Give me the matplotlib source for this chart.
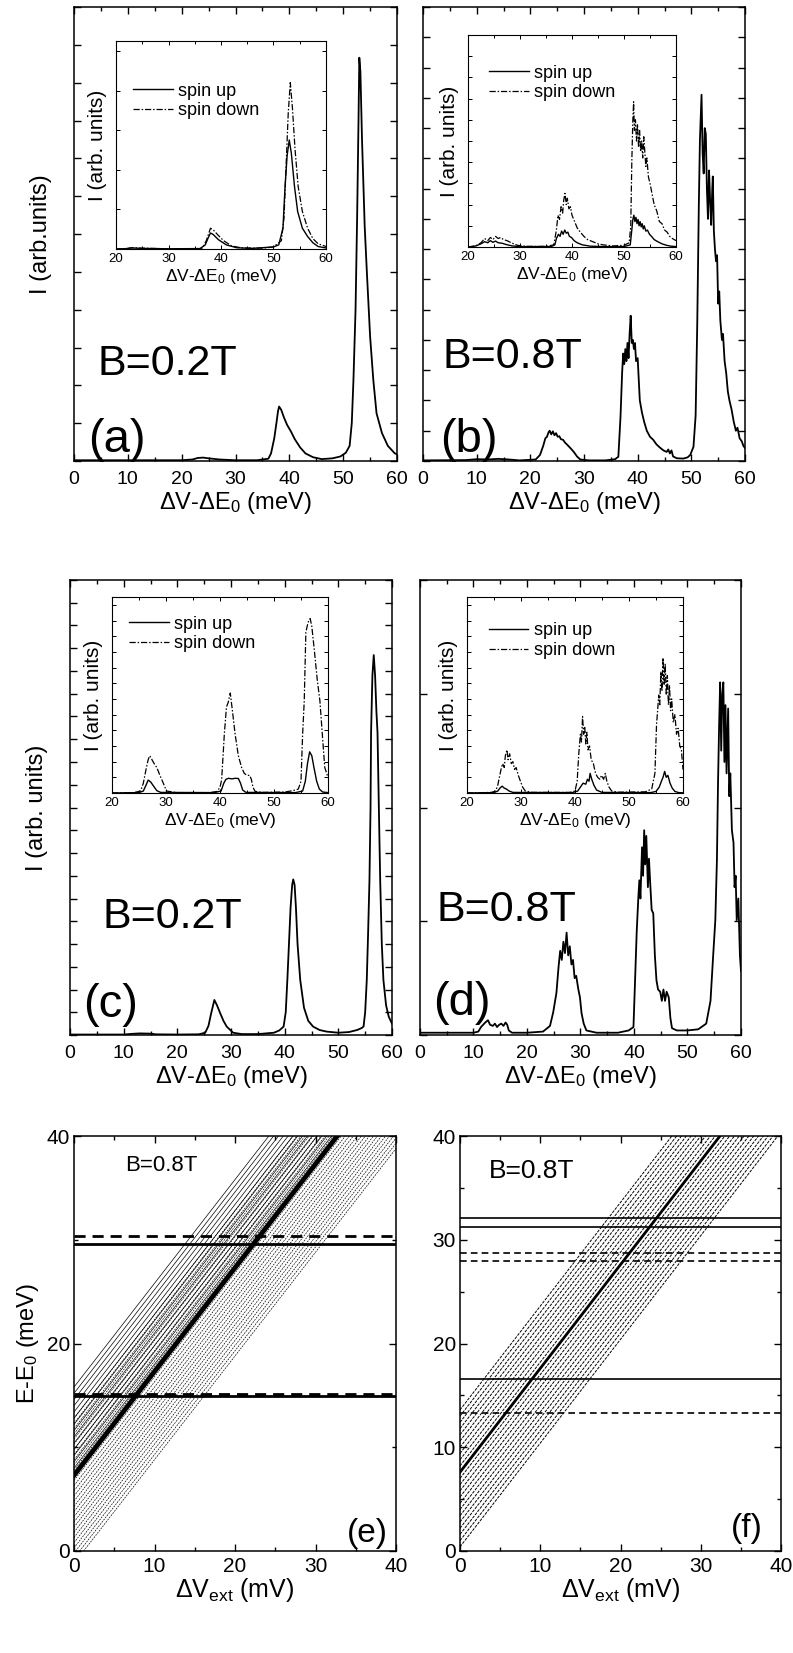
import matplotlib
matplotlib.use('Agg')
import matplotlib.pyplot as plt
from matplotlib.ticker import MultipleLocator, NullFormatter

plt.rcParams['font.family'] = ['Liberation Sans', 'DejaVu Sans']
plt.rcParams['mathtext.fontset'] = 'custom'
plt.rcParams['mathtext.rm'] = 'Liberation Sans'
plt.rcParams['mathtext.it'] = 'Liberation Sans:italic'
plt.rcParams['mathtext.bf'] = 'Liberation Sans:bold'

# ---------------- data ----------------
a_main = [(0,0.02),(10,0.02),(20,0.02),(22,0.04),(23,0.08),(24,0.09),(25,0.07),(27,0.04),(30,0.02),(34,0.02),
          (36.1,0.06),(36.6,0.2),(37.2,0.6),(37.6,1.0),(37.9,1.32),(38.1,1.44),(38.5,1.35),(39.0,1.15),(39.6,0.95),
          (40.3,0.78),(41.0,0.58),(42.0,0.36),(43.0,0.2),(44.4,0.1),(46,0.05),(48,0.07),(49.5,0.12),(50.5,0.22),
          (51.2,0.4),(51.6,1.0),(51.9,2.1),(52.3,4.0),(52.6,6.5),(52.85,9.0),(53.0,10.66),(53.2,10.3),(53.5,8.5),
          (54.0,6.2),(54.4,5.0),(55.0,3.3),(55.6,2.14),(56.2,1.26),(57.2,0.74),(58.3,0.4),(59.6,0.2),(60,0.18)]
a_up = [(20,0),(22,0.002),(23,0.005),(25,0.003),(30,0.001),(36,0.002),(37,0.02),(37.5,0.05),(38,0.077),(38.5,0.07),
        (39.5,0.045),(41,0.02),(43,0.006),(46,0.003),(50,0.01),(51,0.02),(51.8,0.1),(52.2,0.3),(52.6,0.45),
        (53.0,0.524),(53.4,0.46),(54.0,0.3),(54.6,0.18),(55.5,0.1),(56.5,0.06),(57.5,0.03),(58.5,0.012),(60,0.005)]
a_down = [(20,0),(22,0.002),(23,0.006),(25,0.004),(30,0.001),(36,0.002),(36.5,0.005),(37.2,0.04),(38,0.1),(38.6,0.09),
          (39.5,0.065),(40.5,0.04),(42,0.015),(44,0.005),(48,0.004),(50,0.01),(51.5,0.04),(52,0.15),(52.4,0.4),
          (52.8,0.65),(53.2,0.80),(53.6,0.68),(54.1,0.48),(54.7,0.3),(55.5,0.18),(56.5,0.1),(57.5,0.05),(58.5,0.025),(60,0.012)]

b_main = [(0,0.02),(8,0.03),(10,0.06),(12,0.05),(14,0.07),(16,0.05),(18,0.02),(21,0.05),(21.8,0.2),(22.4,0.5),
          (22.8,0.75),(23.1,0.8),(23.4,0.95),(23.6,1.0),(23.9,0.88),(24.2,0.98),(24.5,0.85),(24.8,0.92),(25.1,0.8),
          (25.4,0.82),(25.7,0.72),(26.1,0.7),(26.5,0.6),(26.8,0.55),(27.5,0.42),(28.1,0.3),(28.7,0.15),(29.3,0.05),
          (31,0.02),(34,0.02),(35.8,0.06),(36.4,0.14),(36.8,1.45),(37.1,2.9),(37.3,3.55),(37.5,3.2),(37.7,3.7),
          (37.9,3.3),(38.1,3.9),(38.3,3.4),(38.5,4.2),(38.7,4.8),(38.9,3.9),(39.1,4.0),(39.3,3.7),(39.5,3.9),
          (39.7,3.3),(40.0,3.4),(40.4,2.0),(40.8,1.6),(41.2,1.3),(41.7,1.0),(42.3,0.8),(42.9,0.7),(43.5,0.55),
          (44.1,0.45),(44.8,0.35),(45.4,0.3),(45.7,0.38),(46.0,0.25),(46.3,0.35),(46.6,0.15),(47.3,0.09),(48.5,0.08),
          (49.3,0.12),(49.8,0.2),(50.4,0.47),(50.8,1.5),(51.1,4.5),(51.4,8.5),(51.6,10.6),(51.9,12.1),(52.1,10.2),
          (52.3,9.5),(52.5,11.0),(52.7,10.8),(52.9,9.0),(53.1,8.0),(53.3,9.6),(53.5,8.6),(53.7,7.8),(53.9,9.0),
          (54.0,9.4),(54.2,7.6),(54.4,7.0),(54.6,6.6),(54.8,6.8),(55.0,5.2),(55.2,5.6),(55.4,4.65),(55.7,4.0),
          (55.9,4.2),(56.2,3.3),(56.5,2.9),(56.8,2.3),(57.1,2.0),(57.5,1.7),(57.9,1.3),(58.3,1.0),(58.6,1.1),
          (59.0,0.75),(59.4,0.65),(59.7,0.5),(60,0.43)]
b_up = [(20,0),(21.5,0.005),(22.5,0.015),(23.2,0.025),(23.8,0.02),(24.3,0.03),(24.8,0.022),(25.3,0.028),(25.8,0.02),
        (26.5,0.018),(27.3,0.012),(28.5,0.005),(30,0.002),(36,0.002),(36.7,0.01),(37.0,0.04),(37.4,0.06),(37.7,0.05),
        (38.0,0.075),(38.3,0.06),(38.6,0.08),(38.9,0.065),(39.2,0.07),(39.5,0.05),(39.9,0.045),(40.4,0.03),(41,0.02),
        (42,0.01),(43.5,0.004),(46,0.002),(50,0.002),(51.2,0.01),(51.5,0.08),(51.7,0.13),(51.9,0.15),(52.1,0.12),
        (52.3,0.14),(52.5,0.11),(52.7,0.13),(52.9,0.1),(53.1,0.12),(53.3,0.095),(53.5,0.11),(53.7,0.085),(53.9,0.1),
        (54.2,0.075),(54.5,0.08),(54.9,0.06),(55.3,0.05),(55.8,0.035),(56.5,0.025),(57.3,0.015),(58.2,0.008),
        (59,0.004),(60,0.002)]
b_down = [(20,0),(21.5,0.005),(22.5,0.02),(23.2,0.04),(23.8,0.03),(24.3,0.045),(24.8,0.035),(25.3,0.05),(25.8,0.04),
          (26.3,0.045),(26.8,0.035),(27.5,0.03),(28.3,0.02),(29.5,0.008),(31,0.003),(35,0.003),(36.5,0.01),(37.0,0.08),
          (37.3,0.15),(37.6,0.13),(37.9,0.19),(38.2,0.16),(38.4,0.22),(38.65,0.253),(38.9,0.2),(39.1,0.23),(39.4,0.18),
          (39.7,0.19),(40.0,0.15),(40.5,0.12),(41.0,0.09),(41.6,0.07),(42.3,0.05),(43.0,0.035),(44,0.025),(45,0.015),
          (46,0.01),(48,0.005),(50,0.008),(51.0,0.02),(51.3,0.1),(51.5,0.4),(51.7,0.6),(51.85,0.685),(52.0,0.55),
          (52.2,0.6),(52.4,0.5),(52.6,0.58),(52.8,0.47),(53.0,0.55),(53.2,0.45),(53.4,0.5),(53.6,0.42),(53.8,0.52),
          (54.0,0.45),(54.2,0.38),(54.4,0.42),(54.7,0.33),(55.0,0.3),(55.4,0.25),(55.8,0.2),(56.3,0.17),(56.8,0.12),
          (57.3,0.11),(57.8,0.08),(58.3,0.07),(58.8,0.05),(59.3,0.04),(60,0.03)]

c_main = [(0,0.02),(10,0.02),(11.5,0.05),(13,0.07),(15,0.06),(16,0.03),(20,0.02),(24,0.03),(25.2,0.1),(25.8,0.4),
          (26.3,0.95),(26.9,1.54),(27.4,1.3),(28,0.95),(28.6,0.62),(29.2,0.37),(30.4,0.1),(32,0.04),(35,0.04),
          (38,0.1),(39.0,0.2),(39.8,0.37),(40.2,1.0),(40.5,2.42),(40.8,4.0),(41.1,5.6),(41.4,6.6),(41.6,6.84),
          (41.85,6.6),(42.1,5.6),(42.4,4.0),(42.9,2.42),(43.6,1.2),(44.4,0.62),(45.3,0.37),(46.5,0.22),(47.8,0.15),
          (50,0.1),(52,0.13),(53.5,0.22),(54.3,0.3),(54.7,0.37),(55.0,1.0),(55.3,2.42),(55.55,4.5),(55.8,6.8),
          (56.0,10.0),(56.1,13.3),(56.35,15.8),(56.6,16.7),(56.85,15.8),(57.1,14.2),(57.3,13.3),(57.55,10.0),
          (57.8,6.8),(58.1,4.0),(58.4,2.42),(58.9,1.3),(59.4,0.8),(60,0.5)]
c_up = [(20,0),(25,0.002),(25.8,0.01),(26.3,0.04),(26.7,0.066),(27.2,0.055),(27.7,0.035),(28.3,0.012),(29,0.003),
        (39,0.002),(40.2,0.01),(40.7,0.05),(41.1,0.07),(41.6,0.075),(42.2,0.072),(42.8,0.075),(43.4,0.074),
        (43.8,0.05),(44.2,0.015),(44.8,0.003),(54,0.002),(55.3,0.01),(55.8,0.06),(56.2,0.15),(56.6,0.21),
        (57.0,0.19),(57.4,0.13),(57.9,0.06),(58.4,0.02),(59,0.005),(60,0.002)]
c_down = [(20,0),(24,0.002),(25.3,0.01),(25.8,0.05),(26.3,0.12),(26.7,0.17),(27.0,0.19),(27.4,0.17),(27.8,0.15),
          (28.3,0.13),(28.8,0.095),(29.5,0.05),(30.1,0.01),(32,0.002),(38,0.002),(39.5,0.008),(40.0,0.03),
          (40.3,0.066),(40.8,0.3),(41.2,0.44),(41.5,0.46),(41.9,0.51),(42.3,0.42),(42.8,0.3),(43.4,0.19),(44.0,0.13),
          (44.5,0.1),(45.0,0.09),(45.5,0.09),(45.8,0.07),(46.1,0.03),(46.5,0.008),(48,0.003),(52,0.005),(53.5,0.012),
          (54.5,0.02),(55.0,0.06),(55.3,0.3),(55.6,0.47),(55.9,0.82),(56.3,0.87),(56.7,0.89),(57.0,0.85),(57.5,0.72),
          (58.0,0.58),(58.5,0.47),(59.0,0.28),(59.4,0.13),(60,0.08)]

d_main = [(0,0.02),(10,0.02),(10.9,0.03),(11.4,0.07),(11.8,0.09),(12.2,0.11),(12.7,0.13),(13.1,0.09),(13.6,0.08),
          (14.0,0.1),(14.4,0.07),(14.8,0.09),(15.2,0.1),(15.6,0.08),(16.0,0.11),(16.3,0.09),(16.6,0.04),(17.2,0.02),
          (20,0.02),(23,0.03),(24.3,0.08),(24.9,0.2),(25.5,0.37),(25.9,0.6),(26.2,0.74),(26.5,0.66),(26.8,0.82),
          (27.1,0.72),(27.4,0.9),(27.7,0.7),(28.0,0.78),(28.3,0.62),(28.6,0.66),(28.9,0.5),(29.2,0.52),(29.6,0.4),
          (29.9,0.33),(30.2,0.19),(30.6,0.1),(31.1,0.04),(33,0.02),(37,0.02),(39,0.04),(39.9,0.07),(40.2,0.48),
          (40.5,0.9),(40.8,1.2),(41.0,1.36),(41.2,1.2),(41.5,1.65),(41.7,1.4),(41.9,1.8),(42.1,1.5),(42.3,1.75),
          (42.6,1.3),(42.8,1.55),(43.0,1.36),(43.3,1.1),(43.6,1.07),(43.9,0.7),(44.2,0.48),(44.5,0.4),(44.9,0.38),
          (45.2,0.3),(45.5,0.4),(45.8,0.3),(46.1,0.38),(46.5,0.33),(46.8,0.15),(47.1,0.06),(48,0.04),(50,0.04),
          (52,0.05),(53.5,0.1),(54.3,0.3),(54.8,0.7),(55.2,1.01),(55.5,1.54),(55.7,2.2),(55.9,2.7),(56.1,3.1),
          (56.3,2.5),(56.5,3.0),(56.7,3.1),(56.9,2.4),(57.1,2.9),(57.3,2.3),(57.6,2.87),(57.8,2.1),(58.0,2.3),
          (58.3,1.8),(58.6,1.69),(58.8,1.3),(59.0,1.4),(59.2,1.01),(59.5,1.2),(59.8,0.7),(60,0.56)]
d_up = [(20,0),(25,0.002),(25.7,0.01),(26.1,0.025),(26.5,0.035),(26.9,0.025),(27.3,0.02),(27.8,0.01),(28.5,0.003),
        (39.5,0.002),(40.5,0.01),(41.0,0.03),(41.5,0.05),(42.0,0.045),(42.3,0.07),(42.6,0.06),(42.8,0.1),(43.1,0.07),
        (43.5,0.04),(44.0,0.015),(45,0.003),(54,0.002),(55,0.008),(55.6,0.03),(56.0,0.06),(56.3,0.08),(56.6,0.11),
        (56.9,0.08),(57.2,0.09),(57.6,0.05),(58.0,0.025),(58.5,0.008),(59.2,0.002),(60,0.001)]
d_down = [(20,0),(24.5,0.003),(25.3,0.01),(25.7,0.04),(26.0,0.08),(26.3,0.12),(26.6,0.15),(26.9,0.13),(27.1,0.19),
          (27.4,0.22),(27.6,0.17),(27.9,0.2),(28.2,0.15),(28.5,0.16),(28.8,0.12),(29.1,0.13),(29.5,0.09),(29.9,0.06),
          (30.3,0.03),(30.8,0.01),(32,0.003),(39,0.003),(40.0,0.01),(40.4,0.06),(40.7,0.2),(41.0,0.3),(41.2,0.26),
          (41.4,0.39),(41.6,0.3),(41.8,0.34),(42.0,0.25),(42.2,0.31),(42.4,0.22),(42.7,0.24),(43.0,0.17),(43.4,0.15),
          (43.8,0.1),(44.2,0.08),(44.6,0.07),(44.9,0.09),(45.3,0.07),(45.6,0.1),(45.9,0.06),(46.3,0.03),(46.8,0.01),
          (48,0.004),(53,0.006),(54.2,0.02),(54.8,0.1),(55.1,0.35),(55.3,0.42),(55.5,0.5),(55.7,0.45),(55.9,0.62),
          (56.1,0.52),(56.3,0.69),(56.5,0.55),(56.7,0.66),(56.9,0.5),(57.1,0.6),(57.3,0.45),(57.5,0.55),(57.7,0.42),
          (57.9,0.48),(58.2,0.36),(58.5,0.4),(58.8,0.3),(59.1,0.33),(59.4,0.24),(59.7,0.22),(60,0.12)]

# (e) level diagram: diagonal lines E = offset + slope * dV
e_slope = 1.0
e_thick_offset = 7.3
e_solid_offsets = [8.0, 8.6, 9.2, 9.8, 10.4, 11.0, 11.6, 12.2, 12.8, 13.4, 14.0, 14.6, 15.2, 15.8]
e_dashed_offsets = [-1.2, -0.7, -0.2, 0.3, 0.8, 1.3, 1.8, 2.3, 2.8, 3.3, 3.8, 4.3, 4.8, 5.3, 5.8, 6.3, 6.8,
                    7.3, 7.8, 8.3, 8.8, 9.3, 9.8, 10.3, 10.8, 11.3, 11.8, 12.3, 12.8]
e_hl_solid = [29.6, 14.95]
e_hl_dashed = [30.4, 15.1]

f_slope = 1.0
f_thick_offset = 7.6
f_offsets = [0.4, 1.0, 1.6, 2.2, 2.8, 3.4, 4.0, 4.6, 5.2, 5.8, 6.4, 7.0, 8.2, 8.8, 9.4, 10.0, 10.6, 11.2,
             11.8, 12.4, 13.0, 13.6]
f_hl_solid = [32.1, 31.2, 16.6]
f_hl_dashed = [28.7, 27.95, 13.3]

xlabel_main = r'$\Delta$V-$\Delta$E$_0$ (meV)'

# ---------------- figure ----------------
W, H = 793, 1653
fig = plt.figure(figsize=(W / 100, H / 100), dpi=100)


def box(x0, y0, x1, y1):
    return fig.add_axes([x0 / W, 1 - y1 / H, (x1 - x0) / W, (y1 - y0) / H])


def xy(pairs):
    return [p[0] for p in pairs], [p[1] for p in pairs]


def style(ax, lw=1.1, maj=5, mnr=3, fs=14):
    for s in ax.spines.values():
        s.set_linewidth(lw)
    ax.tick_params(which='both', direction='in', top=True, right=True, width=lw * 0.9, labelsize=fs)
    ax.tick_params(which='major', length=maj)
    ax.tick_params(which='minor', length=mnr)


def main_panel(rect, pairs, ymax, ylabel, btext, btxy, ltext, ltxy):
    ax = box(*rect)
    x, y = xy(pairs)
    ax.plot(x, y, color='black', lw=1.3)
    ax.set_xlim(0, 60)
    ax.set_ylim(0, ymax)
    ax.xaxis.set_major_locator(MultipleLocator(10))
    ax.xaxis.set_minor_locator(MultipleLocator(5))
    ax.yaxis.set_major_locator(MultipleLocator(1))
    ax.yaxis.set_major_formatter(NullFormatter())
    style(ax)
    ax.tick_params(axis='x', pad=7)
    ax.set_xlabel(xlabel_main, fontsize=17, labelpad=2)
    if ylabel:
        ax.set_ylabel(ylabel, fontsize=17, labelpad=12)
    ax.text(btxy[0], btxy[1], btext, transform=ax.transAxes, fontsize=31, ha='left', va='baseline')
    ax.text(ltxy[0], ltxy[1], ltext, transform=ax.transAxes, fontsize=34, ha='left', va='baseline')
    return ax


def inset(rect, up, down, ystep, ymax, leg_anchor):
    ax = box(*rect)
    x, y = xy(up)
    ax.plot(x, y, color='black', lw=1.0, label='spin up')
    x, y = xy(down)
    ax.plot(x, y, color='black', lw=0.9, linestyle=(0, (5, 1.5, 1.2, 1.5)), label='spin down')
    ax.set_xlim(20, 60)
    ax.set_ylim(0, ymax)
    ax.xaxis.set_major_locator(MultipleLocator(10))
    ax.xaxis.set_minor_locator(MultipleLocator(5))
    ax.yaxis.set_major_locator(MultipleLocator(ystep))
    ax.yaxis.set_major_formatter(NullFormatter())
    style(ax, lw=0.8, maj=3, mnr=2, fs=9.5)
    ax.tick_params(axis='x', pad=3)
    ax.set_xlabel(xlabel_main, fontsize=12.5, labelpad=1)
    ax.set_ylabel('I (arb. units)', fontsize=15, labelpad=3)
    ax.legend(loc='upper left', bbox_to_anchor=leg_anchor, frameon=False, fontsize=13,
              handlelength=2.2, handletextpad=0.3, borderpad=0, borderaxespad=0, labelspacing=0.15)
    return ax


# panel (a)
main_panel((74, 7, 397, 461), a_main, 12, 'I (arb.units)', 'B=0.2T', (0.072, 0.19), '(a)', (0.045, 0.02))
inset((116, 41, 326, 249), a_up, a_down, 0.19, 1.0, (0.08, 0.80))
# panel (b)
main_panel((423, 7, 745, 461), b_main, 15, None, 'B=0.8T', (0.06, 0.205), '(b)', (0.052, 0.02))
inset((468, 35, 676, 247), b_up, b_down, 0.1, 1.0, (0.10, 0.86))
# panel (c)
main_panel((70, 580, 392, 1035), c_main, 20, 'I (arb. units)', 'B=0.2T', (0.102, 0.235), '(c)', (0.04, 0.04))
inset((112, 597, 328, 793), c_up, c_down, 0.08, 1.0, (0.08, 0.905))
# panel (d)
main_panel((420, 580, 741, 1035), d_main, 4, None, 'B=0.8T', (0.05, 0.25), '(d)', (0.04, 0.045))
inset((467, 597, 683, 793), d_up, d_down, 0.08, 1.0, (0.10, 0.87))


def level_panel(rect, thick_off, slope, solid_offs, dashed_offs, hl_solid, hl_dashed, ymajor, yminor,
                thick_lw, hl_lw, thin_ls, thin_lw, btext, bfs, btxy, ltext, ltxy, ylabel):
    ax = box(*rect)
    for b in dashed_offs:
        ax.axline((0, b), slope=slope, color='black', lw=thin_lw, linestyle=thin_ls)
    for b in solid_offs:
        ax.axline((0, b), slope=slope, color='black', lw=0.5)
    ax.axline((0, thick_off), slope=slope, color='black', lw=thick_lw)
    for e in hl_solid:
        ax.axhline(e, color='black', lw=hl_lw)
    for e in hl_dashed:
        ax.axhline(e, color='black', lw=hl_lw, linestyle=(0, (4, 2.5)))
    ax.set_xlim(0, 40)
    ax.set_ylim(0, 40)
    ax.xaxis.set_major_locator(MultipleLocator(10))
    ax.xaxis.set_minor_locator(MultipleLocator(5))
    ax.yaxis.set_major_locator(MultipleLocator(ymajor))
    ax.yaxis.set_minor_locator(MultipleLocator(yminor))
    style(ax, lw=1.1, maj=5, mnr=3, fs=15)
    ax.tick_params(axis='x', pad=4)
    ax.tick_params(axis='y', pad=3)
    ax.set_xlabel(r'$\Delta$V$_{\rm ext}$ (mV)', fontsize=18, labelpad=0)
    if ylabel:
        ax.set_ylabel(ylabel, fontsize=17, labelpad=4)
    ax.text(btxy[0], btxy[1], btext, transform=ax.transAxes, fontsize=bfs, ha='left', va='baseline')
    ax.text(ltxy[0], ltxy[1], ltext, transform=ax.transAxes, fontsize=24, ha='right', va='baseline')
    return ax


level_panel((74, 1136, 396, 1551), e_thick_offset, e_slope, e_solid_offsets, e_dashed_offsets,
            e_hl_solid, e_hl_dashed, 20, 10, 3.5, 2.0, (0, (2.5, 1.5)), 0.5, 'B=0.8T', 16, (0.16, 0.915),
            '(e)', (0.975, 0.022), r'E-E$_0$ (meV)')
level_panel((460, 1136, 781, 1551), f_thick_offset, f_slope, [], f_offsets,
            f_hl_solid, f_hl_dashed, 10, 5, 2.0, 1.2, (0, (3, 1.2)), 0.7, 'B=0.8T', 19, (0.09, 0.9),
            '(f)', (0.944, 0.034), None)

fig.savefig('out.png', dpi=100)
